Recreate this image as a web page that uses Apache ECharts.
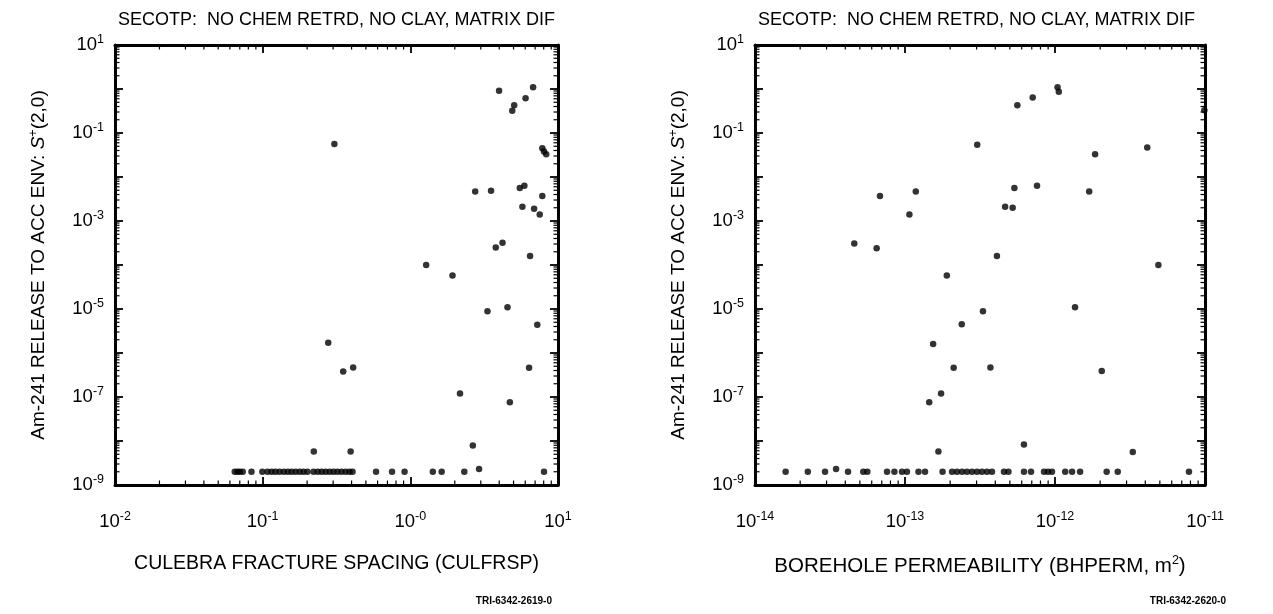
<!DOCTYPE html>
<html><head><meta charset="utf-8">
<script src="https://cdn.jsdelivr.net/npm/echarts@6/dist/echarts.min.js"></script>
<style>html,body{margin:0;padding:0;background:#fff}#c{width:1273px;height:614px}</style>
</head><body><div id="c"></div>
<script>
// ---- DATA ----
const titleText = 'SECOTP:  NO CHEM RETRD, NO CLAY, MATRIX DIF';
const leftXName = 'CULEBRA FRACTURE SPACING (CULFRSP)';
const rightXName = 'BOREHOLE PERMEABILITY (BHPERM, m';
const leftFootnote = 'TRI-6342-2619-0';
const rightFootnote = 'TRI-6342-2620-0';

// Left plot: CULFRSP vs release
const culfrsp = [3.99, 6.78, 6.03, 5.05, 4.90, 0.306, 7.83, 8.04, 8.32, 2.75, 3.52, 5.51, 5.92, 7.83, 5.74, 6.89, 7.52, 3.79, 4.21, 6.47,
  1.28, 1.93, 3.33, 4.55, 7.24, 0.278, 0.351, 0.410, 6.37, 2.17, 4.72, 2.65, 0.222, 0.394, 2.92,
  0.0647, 0.0675, 0.070, 0.0733, 0.084, 0.0995, 0.108, 0.115, 0.122, 0.130, 0.139, 0.148, 0.157, 0.167, 0.178, 0.189, 0.201,
  0.221, 0.236, 0.251, 0.267, 0.284, 0.302, 0.321, 0.342, 0.364, 0.387, 0.406, 0.586, 0.752, 0.914, 1.42, 1.63, 2.32, 8.04];
const releaseLeft = [0.91, 1.10, 0.62, 0.43, 0.32, 0.056, 0.045, 0.038, 0.033, 4.7e-3, 4.9e-3, 5.6e-3, 6.3e-3, 3.7e-3, 2.1e-3, 1.9e-3, 1.4e-3, 2.5e-4, 3.2e-4, 1.6e-4,
  1.0e-4, 5.8e-5, 8.9e-6, 1.1e-5, 4.4e-6, 1.7e-6, 3.8e-7, 4.7e-7, 4.6e-7, 1.2e-7, 7.6e-8, 7.9e-9, 5.8e-9, 5.8e-9, 2.3e-9,
  2e-9, 2e-9, 2e-9, 2e-9, 2e-9, 2e-9, 2e-9, 2e-9, 2e-9, 2e-9, 2e-9, 2e-9, 2e-9, 2e-9, 2e-9, 2e-9, 2e-9,
  2e-9, 2e-9, 2e-9, 2e-9, 2e-9, 2e-9, 2e-9, 2e-9, 2e-9, 2e-9, 2e-9, 2e-9, 2e-9, 2e-9, 2e-9, 2e-9, 2e-9, 2e-9];

// Right plot: BHPERM vs release
const bhperm = [5.61e-13, 7.10e-13, 1.04e-12, 1.06e-12, 9.9e-12, 3.03e-13, 4.12e-12, 1.85e-12, 6.81e-14, 1.18e-13, 1.07e-13, 5.36e-13, 7.59e-13, 4.65e-13, 5.22e-13, 1.69e-12,
  4.59e-14, 6.47e-14, 4.10e-13, 1.90e-13, 4.89e-12, 3.31e-13, 1.36e-12, 2.39e-13, 1.54e-13, 2.11e-13, 3.71e-13, 2.05e-12, 1.74e-13, 1.45e-13, 6.21e-13, 1.67e-13, 3.30e-12, 3.47e-14,
  1.60e-14, 2.25e-14, 2.93e-14, 4.17e-14, 5.27e-14, 5.61e-14, 7.59e-14, 8.50e-14, 9.55e-14, 1.03e-13, 1.23e-13, 1.36e-13, 1.78e-13, 2.06e-13, 2.22e-13, 2.40e-13, 2.59e-13, 2.80e-13,
  3.02e-13, 3.26e-13, 3.52e-13, 3.80e-13, 4.57e-13, 4.89e-13, 6.21e-13, 6.92e-13, 8.45e-13, 8.98e-13, 9.55e-13, 1.17e-12, 1.30e-12, 1.47e-12, 2.21e-12, 2.62e-12, 7.82e-12];
const releaseRight = [0.43, 0.64, 1.10, 0.87, 0.33, 0.054, 0.047, 0.033, 3.7e-3, 4.7e-3, 1.4e-3, 5.6e-3, 6.3e-3, 2.1e-3, 2.0e-3, 4.7e-3,
  3.1e-4, 2.4e-4, 1.6e-4, 5.8e-5, 1.0e-4, 8.9e-6, 1.1e-5, 4.5e-6, 1.6e-6, 4.6e-7, 4.7e-7, 3.9e-7, 1.2e-7, 7.6e-8, 8.3e-9, 5.8e-9, 5.6e-9, 2.3e-9,
  2e-9, 2e-9, 2e-9, 2e-9, 2e-9, 2e-9, 2e-9, 2e-9, 2e-9, 2e-9, 2e-9, 2e-9, 2e-9, 2e-9, 2e-9, 2e-9, 2e-9, 2e-9,
  2e-9, 2e-9, 2e-9, 2e-9, 2e-9, 2e-9, 2e-9, 2e-9, 2e-9, 2e-9, 2e-9, 2e-9, 2e-9, 2e-9, 2e-9, 2e-9, 2e-9];

const leftXRange = [0.01, 10];
const rightXRange = [1e-14, 1e-11];
const yRange = [1e-9, 10];
const minorMultipliers = [2, 3, 4, 5, 6, 7, 8, 9];

// ---- CHART ----
const FONT = '"Liberation Sans", Arial, Helvetica, sans-serif';
const chart = echarts.init(document.getElementById('c'));

function zip(a, b) { return a.map((v, i) => [v, b[i]]); }

// minor tick values inside a log range (axis furniture, not data)
function minorTicks(range) {
  const out = [];
  const e0 = Math.round(Math.log10(range[0])), e1 = Math.round(Math.log10(range[1]));
  for (let e = e0; e < e1; e++) minorMultipliers.forEach(m => out.push(m * Math.pow(10, e)));
  return out;
}

const rich = {
  b: { fontSize: 18.5, fontFamily: FONT, color: '#000' },
  s: { fontSize: 12.5, fontFamily: FONT, color: '#000', padding: [0, 0, 11, 0] }
};
function powLabel(zeroAsMinus, oddOnly) {
  return function (v) {
    const e = Math.round(Math.log10(v));
    if (oddOnly && e % 2 === 0) return '';
    const es = (e === 0 && zeroAsMinus) ? '-0' : String(e);
    return '{b|10}{s|' + es + '}';
  };
}
const black = '#000';
function axisCommon(extra) {
  return Object.assign({
    type: 'log', logBase: 10,
    axisLine: { show: true, onZero: false, lineStyle: { color: black, width: 3 } },
    axisTick: { show: true, inside: true, length: 8, lineStyle: { color: black, width: 1.8 } },
    splitLine: { show: false }
  }, extra);
}

function nameRich(size) {
  return {
    n: { fontSize: size, fontFamily: FONT, color: '#000' },
    i: { fontSize: size, fontFamily: FONT, fontStyle: 'italic', color: '#000' },
    sup: { fontSize: 12.5, fontFamily: FONT, color: '#000', padding: [0, 0, 11, 0] }
  };
}
const yName = '{n|Am-241 RELEASE TO ACC ENV: }{i|S}{sup|+}{n|(2,0)}';

const grids = [
  { left: 115, top: 45, width: 443, height: 440 },
  { left: 755, top: 45, width: 450, height: 440 }
];

const xAxes = [], yAxes = [];
[[leftXRange, true, 19.5], [rightXRange, false, 20.5]].forEach(function (cfg, g) {
  xAxes.push(axisCommon({
    gridIndex: g, position: 'bottom', min: cfg[0][0], max: cfg[0][1], interval: 1,
    axisLabel: { formatter: powLabel(cfg[1], false), rich: rich, margin: 25 },
    name: g === 0 ? '{n|' + leftXName + '}' : '{n|' + rightXName + '}{sup|2}{n|)}',
    nameLocation: 'middle', nameGap: 69, nameTextStyle: { rich: nameRich(cfg[2]) }
  }));
  xAxes.push(axisCommon({
    gridIndex: g, position: 'top', min: cfg[0][0], max: cfg[0][1], interval: 1,
    axisLabel: { show: false }
  }));
  yAxes.push(axisCommon({
    gridIndex: g, position: 'left', min: yRange[0], max: yRange[1], interval: 1,
    axisLabel: { formatter: powLabel(false, true), rich: rich, margin: 11 },
    name: yName, nameLocation: 'middle', nameGap: 64, nameRotate: 90,
    nameTextStyle: { rich: nameRich(19) }
  }));
  yAxes.push(axisCommon({
    gridIndex: g, position: 'right', min: yRange[0], max: yRange[1], interval: 1,
    axisLabel: { show: false }
  }));
});

function minorTickSeries(g, xRange) {
  const data = minorTicks(xRange).map(v => [v, 0]).concat(minorTicks(yRange).map(v => [v, 1]));
  return {
    type: 'custom', xAxisIndex: g * 2, yAxisIndex: g * 2, silent: true, clip: false, z: 5,
    data: data,
    encode: { x: -1, y: -1 },
    renderItem: function (params, api) {
      const v = api.value(0), kind = api.value(1);
      const L = 4.5;
      const style = { stroke: '#000', lineWidth: 1.2 };
      if (kind === 0) {
        const pb = api.coord([v, yRange[0]]), pt = api.coord([v, yRange[1]]);
        return { type: 'group', children: [
          { type: 'line', shape: { x1: pb[0], y1: pb[1], x2: pb[0], y2: pb[1] - L }, style: style },
          { type: 'line', shape: { x1: pt[0], y1: pt[1], x2: pt[0], y2: pt[1] + L }, style: style }
        ] };
      } else {
        const pl = api.coord([xRange[0], v]), pr = api.coord([xRange[1], v]);
        return { type: 'group', children: [
          { type: 'line', shape: { x1: pl[0], y1: pl[1], x2: pl[0] + L, y2: pl[1] }, style: style },
          { type: 'line', shape: { x1: pr[0], y1: pr[1], x2: pr[0] - L, y2: pr[1] }, style: style }
        ] };
      }
    }
  };
}

const dotStyle = { color: '#000' };
const titleStyle = { fontSize: 18, fontWeight: 'normal', fontFamily: FONT, color: '#000' };
chart.setOption({
  animation: false,
  backgroundColor: '#fff',
  title: [
    { text: titleText, left: 113, top: 6, textStyle: titleStyle },
    { text: titleText, left: 753, top: 6, textStyle: titleStyle }
  ],
  grid: grids,
  xAxis: xAxes,
  yAxis: yAxes,
  series: [
    { type: 'scatter', xAxisIndex: 0, yAxisIndex: 0, symbol: 'circle', symbolSize: 6.5, itemStyle: dotStyle, z: 6, data: zip(culfrsp, releaseLeft) },
    { type: 'scatter', xAxisIndex: 2, yAxisIndex: 2, symbol: 'circle', symbolSize: 6.5, itemStyle: dotStyle, z: 6, data: zip(bhperm, releaseRight) },
    minorTickSeries(0, leftXRange),
    minorTickSeries(1, rightXRange)
  ],
  graphic: [
    { type: 'text', right: 1273 - 552, top: 596, style: { text: leftFootnote, font: 'bold 10px "Liberation Sans Narrow", "Liberation Sans", Arial', fill: '#000' } },
    { type: 'text', right: 1273 - 1226, top: 596, style: { text: rightFootnote, font: 'bold 10px "Liberation Sans Narrow", "Liberation Sans", Arial', fill: '#000' } }
  ]
});
</script>
</body></html>
